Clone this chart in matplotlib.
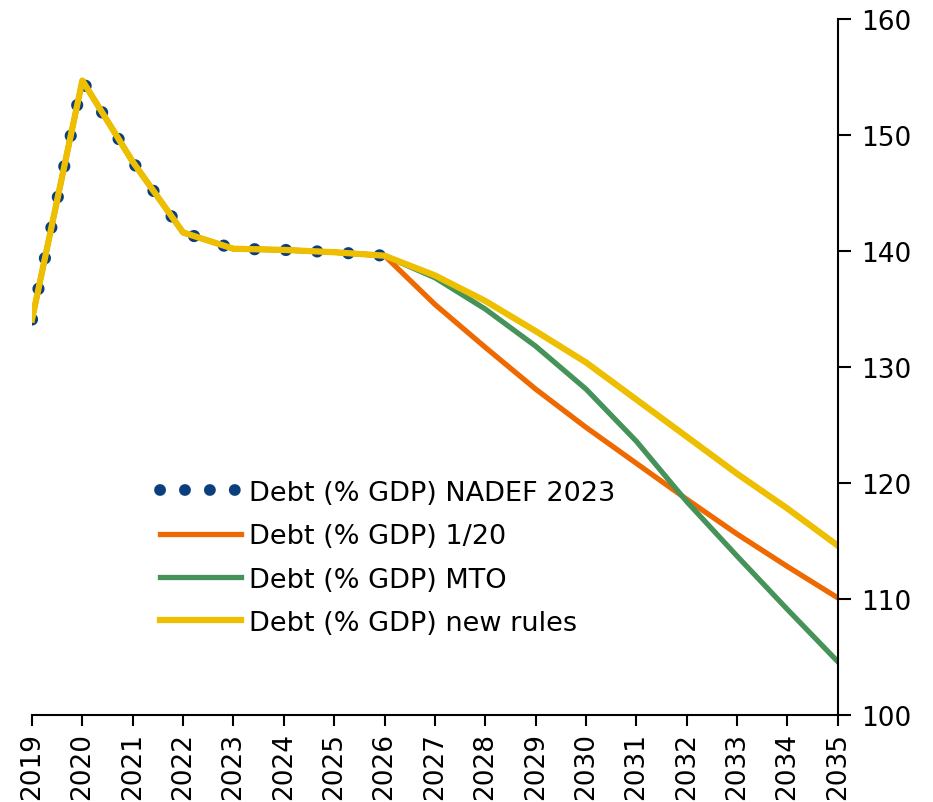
import matplotlib.pyplot as plt
from matplotlib.lines import Line2D
import numpy as np

# Public debt paths, % of GDP
years = np.arange(2019, 2036)
nadef_years = np.arange(2019, 2027)
nadef_2023 = [134.1, 154.7, 147.7, 141.6, 140.2, 140.1, 139.9, 139.6]

path_1_20 = [134.1, 154.7, 147.7, 141.6, 140.2, 140.1, 139.9, 139.6,
             135.4, 131.7, 128.1, 124.8, 121.7, 118.6, 115.6, 112.8, 110.1]
path_mto = [134.1, 154.7, 147.7, 141.6, 140.2, 140.1, 139.9, 139.6,
            137.7, 135.0, 131.8, 128.1, 123.6, 118.4, 113.7, 109.1, 104.6]
path_new = [134.1, 154.7, 147.7, 141.6, 140.2, 140.1, 139.9, 139.6,
            137.9, 135.7, 133.1, 130.4, 127.2, 124.0, 120.8, 117.8, 114.6]

labels = ['Debt (% GDP) NADEF 2023', 'Debt (% GDP) 1/20',
          'Debt (% GDP) MTO', 'Debt (% GDP) new rules']

plt.rcParams['font.family'] = ['DejaVu Sans']

NAVY = '#0B3F7C'
fig = plt.figure(figsize=(9.33, 8.03), dpi=100)
ax = fig.add_axes([0.0343, 0.1083, 0.8637, 0.8667])

ax.plot(nadef_years, nadef_2023, color=NAVY, lw=8.8,
        ls=(0, (0.01, 2.55)), dash_capstyle='round')
l1, = ax.plot(years, path_1_20, color='#EE6A00', lw=3.8)
l2, = ax.plot(years, path_mto, color='#46935A', lw=3.8)
l3, = ax.plot(years, path_new, color='#EDBF00', lw=4.5)

ax.set_xlim(2019, 2035)
ax.set_ylim(100, 160)
ax.set_xticks(years)
ax.set_xticklabels([str(y) for y in years], rotation=90, fontsize=19)
ax.set_yticks(np.arange(100, 161, 10))

ax.yaxis.tick_right()
ax.tick_params(axis='y', labelsize=19, length=9, width=1.5, pad=8,
               direction='out')
ax.tick_params(axis='x', length=8, width=1.5, pad=4, direction='out')

for side in ['left', 'top']:
    ax.spines[side].set_visible(False)
for side in ['right', 'bottom']:
    ax.spines[side].set_linewidth(1.5)

# tighter dot spacing for the legend sample
dots = Line2D([], [], color=NAVY, lw=8.5, ls=(0, (0.01, 2.1)),
              dash_capstyle='round')
ax.legend([dots, l1, l2, l3], labels, loc='center left',
          bbox_to_anchor=(0.1715, 0.304), bbox_transform=fig.transFigure,
          frameon=False, fontsize=19.5, handlelength=3.0, handletextpad=0.28,
          labelspacing=0.64, borderpad=0, borderaxespad=0)

plt.savefig('out.png', dpi=100)
